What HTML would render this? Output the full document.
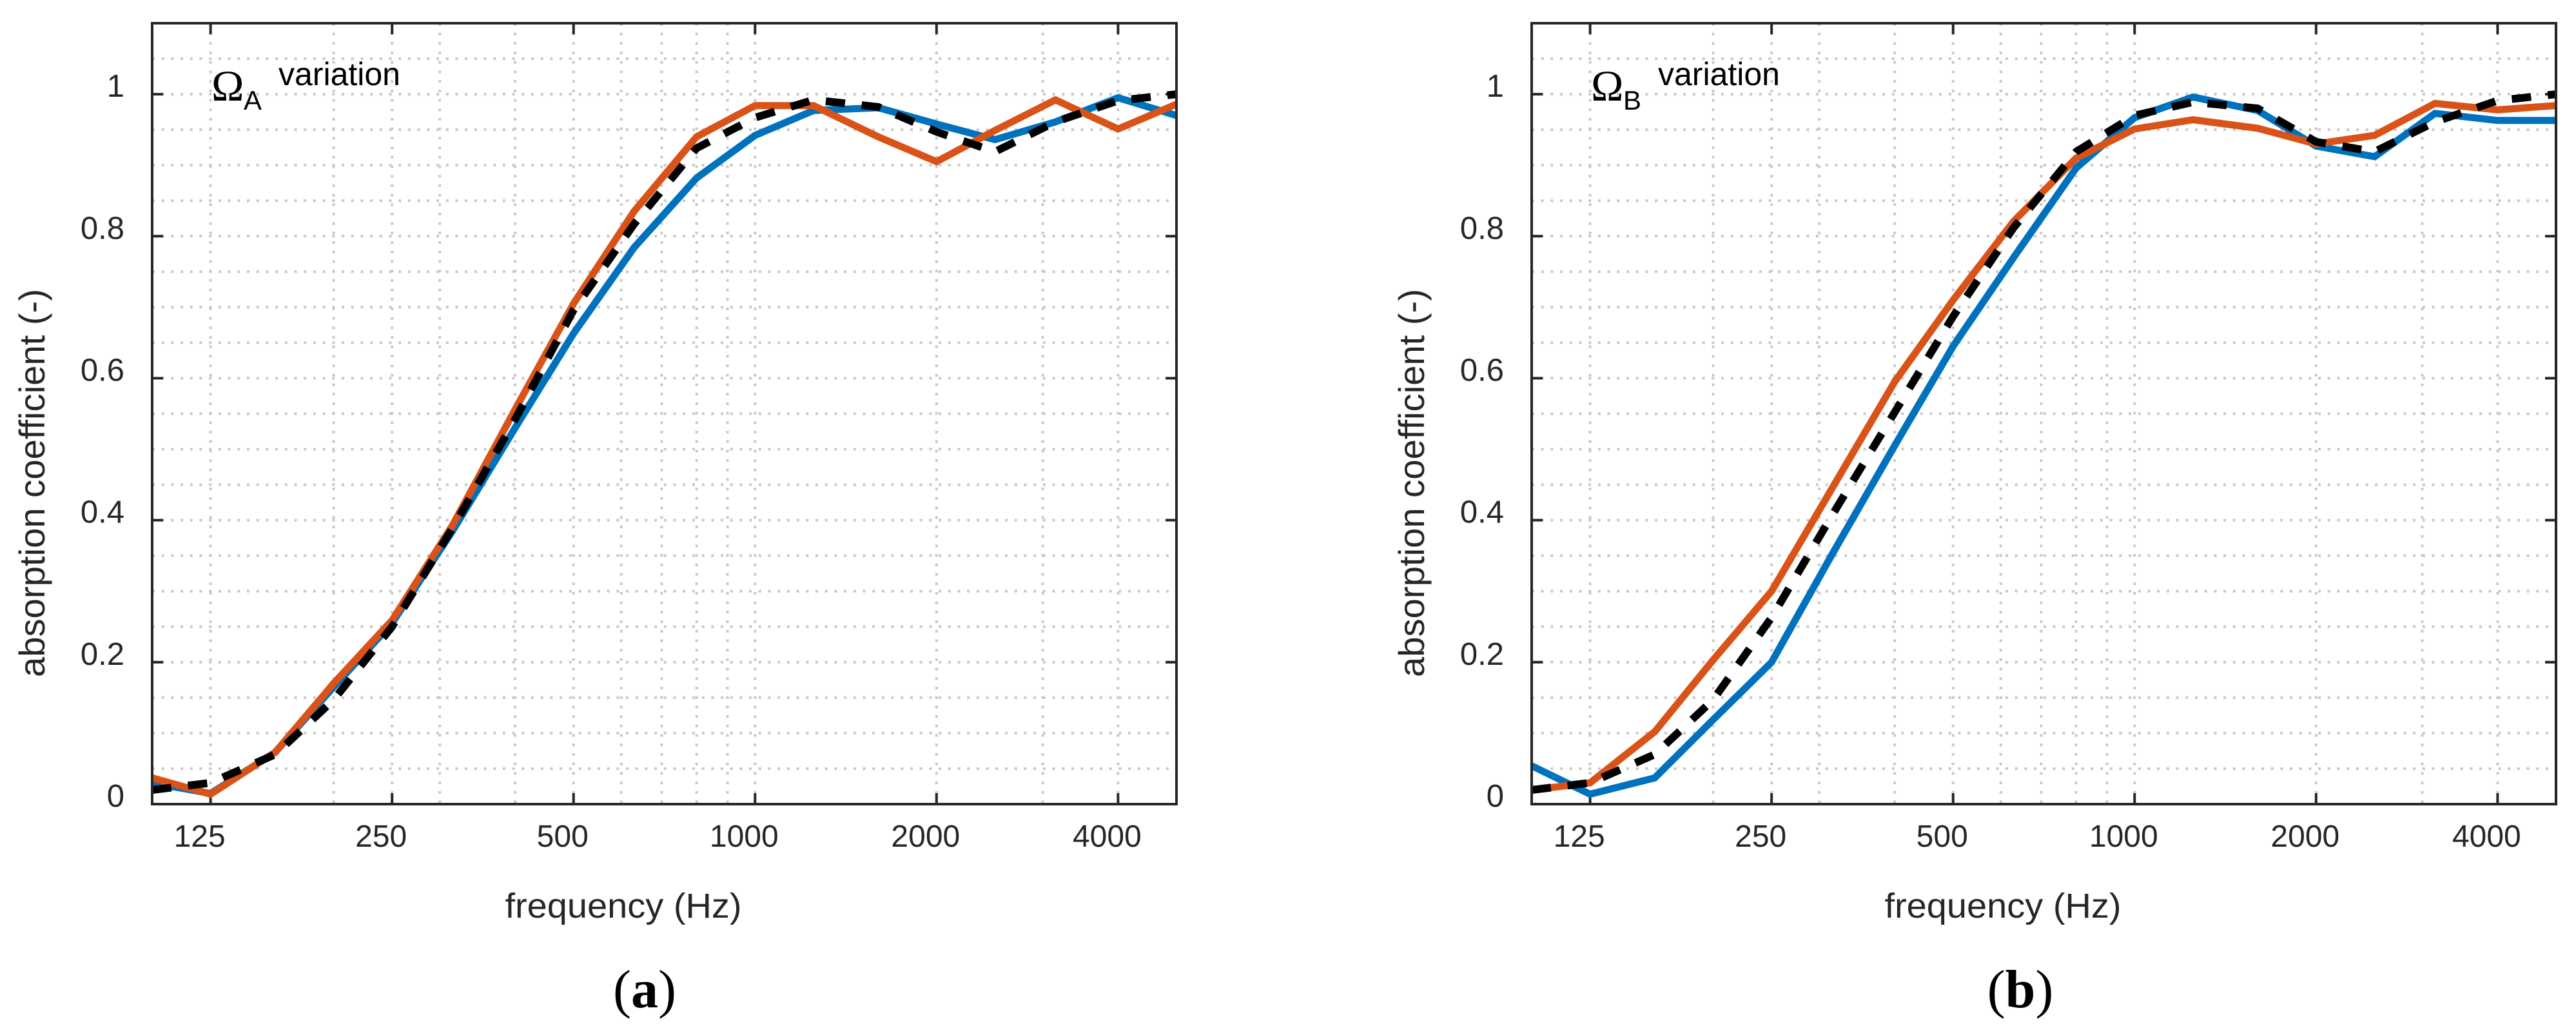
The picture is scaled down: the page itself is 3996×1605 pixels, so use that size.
<!DOCTYPE html>
<html><head><meta charset="utf-8"><style>
html,body{margin:0;padding:0;background:#fff;}
svg{display:block;}
</style></head><body>
<svg id="fig" width="3996" height="1605" viewBox="0 0 3996 1605" xmlns="http://www.w3.org/2000/svg"></svg>
<script>
const freqs=[100,125,160,200,250,315,400,500,630,800,1000,1250,1600,2000,2500,3150,4000,5000];
const xTickLabels=[125,250,500,1000,2000,4000];
const xMinorGrid=[200,300,400,600,700,800,900,3000,5000];
const yTickLabels=[0,0.2,0.4,0.6,0.8,1];
const aBlue=[0.03,0.015,0.073,0.165,0.255,0.385,0.53,0.663,0.784,0.882,0.942,0.977,0.981,0.958,0.936,0.961,0.995,0.97];
const aOrange=[0.037,0.014,0.073,0.17,0.259,0.393,0.556,0.705,0.835,0.94,0.984,0.984,0.94,0.905,0.949,0.992,0.951,0.986];
const aBlack=[0.02,0.03,0.07,0.147,0.25,0.389,0.542,0.696,0.817,0.924,0.967,0.992,0.982,0.947,0.919,0.961,0.991,1.0];
const bBlue=[0.054,0.014,0.037,0.119,0.2,0.352,0.505,0.645,0.77,0.896,0.967,0.996,0.977,0.927,0.912,0.973,0.963,0.963];
const bOrange=[0.02,0.03,0.102,0.203,0.3,0.445,0.595,0.71,0.821,0.91,0.951,0.964,0.952,0.93,0.942,0.987,0.978,0.984];
const bBlack=[0.02,0.03,0.07,0.147,0.263,0.407,0.552,0.687,0.812,0.919,0.97,0.989,0.98,0.933,0.919,0.961,0.991,1.0];

const NS='http://www.w3.org/2000/svg';
const svg=document.getElementById('fig');
function mk(tag,attrs,parent){const e=document.createElementNS(NS,tag);for(const k in attrs)e.setAttribute(k,attrs[k]);(parent||svg).appendChild(e);return e;}

function panel(id,L,R,series,sub,letter,letterX){
  const T=36,B=1247;
  const g=mk('g',{});
  
  
  const xs=f=>L+(Math.log2(f/100)/Math.log2(50))*(R-L);
  const ys=v=>B-(v/1.1)*(B-T);
  const grid=mk('g',{stroke:'#c8c8c8','stroke-width':4,'stroke-dasharray':'4 10.7'},g);
  
  
  for(let v=0.05;v<1.1;v+=0.05){const y=ys(v);mk('line',{x1:L,x2:R,y1:y,y2:y},grid);}
  xTickLabels.concat(xMinorGrid).forEach(f=>{const x=xs(f);mk('line',{x1:x,x2:x,y1:T,y2:B},grid);});
  const tk=mk('g',{stroke:'#262626','stroke-width':4},g);
  
  
  yTickLabels.forEach(v=>{const y=ys(v);mk('line',{x1:L,x2:L+17,y1:y,y2:y},tk);mk('line',{x1:R,x2:R-17,y1:y,y2:y},tk);});
  xTickLabels.forEach(f=>{const x=xs(f);mk('line',{x1:x,x2:x,y1:B,y2:B-17},tk);mk('line',{x1:x,x2:x,y1:T,y2:T+17},tk);});
  const colors={blue:'#0072BD',orange:'#D95319',black:'#000'};
  series.forEach(s=>{
    const d=freqs.map((f,i)=>(i?'L':'M')+xs(f).toFixed(1)+','+ys(s.v[i]).toFixed(1)).join(' ');
    const p=mk('path',{d:d,fill:'none',stroke:colors[s.c],'stroke-width':11,'stroke-linejoin':'miter'},g);
    if(s.c==='black'){p.setAttribute('stroke-dasharray','30 26');p.setAttribute('stroke-width',12);}
    
    
  });
  const box=mk('rect',{x:L,y:T,width:R-L,height:B-T,fill:'none',stroke:'#262626','stroke-width':4},g);
  
  
  const lab=mk('g',{'font-family':'Liberation Sans, sans-serif',fill:'#262626'},g);
  
  
  yTickLabels.forEach(v=>{const t=mk('text',{x:L-43,y:ys(v)+4,'font-size':49,'text-anchor':'end'},lab);t.textContent=String(v);});
  xTickLabels.forEach(f=>{const t=mk('text',{x:xs(f)-17,y:1313,'font-size':48,'text-anchor':'middle'},lab);t.textContent=String(f);});
  const xt=mk('text',{x:L+731,y:1423,'font-size':54,'text-anchor':'middle',textLength:367,lengthAdjust:'spacingAndGlyphs','font-family':'Liberation Sans, sans-serif',fill:'#262626'},g);
  xt.textContent='frequency (Hz)';
  
  
  const yx=L-167;
  const yt=mk('text',{x:0,y:0,'font-size':56,'text-anchor':'middle',textLength:602,lengthAdjust:'spacingAndGlyphs','font-family':'Liberation Sans, sans-serif',fill:'#262626',transform:'translate('+yx+',749) rotate(-90)'},g);
  yt.textContent='absorption coefficient (-)';
  
  
  const ann=mk('g',{},g);
  
  
  const om=mk('text',{x:L+92,y:156,'font-size':68,'font-family':'Liberation Serif, serif',fill:'#000'},ann);om.textContent='Ω';
  const sb=mk('text',{x:L+142,y:170,'font-size':42,'font-family':'Liberation Sans, sans-serif',fill:'#000'},ann);sb.textContent=sub;
  const vr=mk('text',{x:L+196,y:132,'font-size':50,'font-family':'Liberation Sans, sans-serif',fill:'#000'},ann);vr.textContent='variation';
  const pl=mk('text',{x:letterX,y:1562,'font-size':84,'text-anchor':'middle','font-family':'Liberation Serif, serif',fill:'#000'},g);
  pl.innerHTML='(<tspan font-weight="bold">'+letter+'</tspan>)';
  
  
}
panel('a',236,1825,[{c:'blue',v:aBlue},{c:'orange',v:aOrange},{c:'black',v:aBlack}],'A','a',1000);
panel('b',2376,3965,[{c:'blue',v:bBlue},{c:'orange',v:bOrange},{c:'black',v:bBlack}],'B','b',3134);
</script>
</body></html>
